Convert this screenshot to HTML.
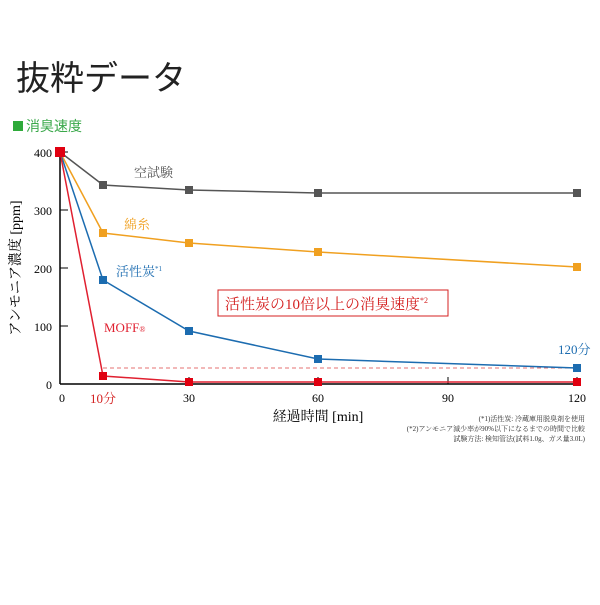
<!DOCTYPE html>
<html><head><meta charset="utf-8"><style>
body{margin:0;background:#fff;}
svg text{font-family:"Liberation Serif","Noto Serif CJK SC",serif;}
</style></head><body>
<svg width="600" height="600" viewBox="0 0 600 600" xmlns="http://www.w3.org/2000/svg">
<rect width="600" height="600" fill="#fff"/>
<text x="16" y="90" font-size="34" fill="#222" style="font-family:'Liberation Sans','Noto Sans CJK JP',sans-serif" font-weight="normal">抜粋データ</text>
<rect x="13" y="121" width="10" height="10" fill="#2eaa3a"/>
<text x="26" y="131" font-size="14" fill="#3aa84a" style="font-family:'Liberation Sans','Noto Sans CJK JP',sans-serif">消臭速度</text>
<line x1="60" y1="152" x2="60" y2="384" stroke="#000" stroke-width="1.5"/>
<line x1="60" y1="384" x2="578" y2="384" stroke="#000" stroke-width="1.5"/>
<g stroke="#000" stroke-width="1">
<line x1="60" y1="152" x2="68" y2="152"/><line x1="60" y1="210" x2="68" y2="210"/><line x1="60" y1="268" x2="68" y2="268"/><line x1="60" y1="326" x2="68" y2="326"/>
<line x1="189" y1="384" x2="189" y2="377"/><line x1="318" y1="384" x2="318" y2="377"/><line x1="448" y1="384" x2="448" y2="377"/><line x1="577" y1="384" x2="577" y2="377"/>
</g>
<g font-size="12" fill="#000" text-anchor="end">
<text x="52" y="157">400</text><text x="52" y="215">300</text><text x="52" y="273">200</text><text x="52" y="331">100</text><text x="52" y="389">0</text>
</g>
<g font-size="12" fill="#000" text-anchor="middle">
<text x="62" y="402">0</text><text x="189" y="402">30</text><text x="318" y="402">60</text><text x="448" y="402">90</text><text x="577" y="402">120</text>
</g>
<text x="103" y="403" font-size="13" fill="#d42020" text-anchor="middle">10分</text>
<text x="318" y="421" font-size="14" fill="#000" text-anchor="middle">経過時間 [min]</text>
<text transform="translate(20,268) rotate(-90)" font-size="14" fill="#000" text-anchor="middle">アンモニア濃度 [ppm]</text>
<line x1="103" y1="368" x2="577" y2="368" stroke="#d44" stroke-dasharray="4,3" stroke-width="0.8"/>
<g fill="none" stroke-width="1.5">
<polyline stroke="#555" points="60,152 103,185 189,190 318,193 577,193"/>
<polyline stroke="#f0a020" points="60,152 103,233 189,243 318,252 577,267"/>
<polyline stroke="#1c6cb0" points="60,152 103,280 189,331 318,359 577,368"/>
<polyline stroke="#e02030" points="60,152 103,376 189,382 318,382 577,382"/>
</g>
<g fill="#555"><rect x="99" y="181" width="8" height="8"/><rect x="185" y="186" width="8" height="8"/><rect x="314" y="189" width="8" height="8"/><rect x="573" y="189" width="8" height="8"/></g>
<g fill="#f0a020"><rect x="99" y="229" width="8" height="8"/><rect x="185" y="239" width="8" height="8"/><rect x="314" y="248" width="8" height="8"/><rect x="573" y="263" width="8" height="8"/></g>
<g fill="#1c6cb0"><rect x="99" y="276" width="8" height="8"/><rect x="185" y="327" width="8" height="8"/><rect x="314" y="355" width="8" height="8"/><rect x="573" y="364" width="8" height="8"/></g>
<g fill="#e00010"><rect x="99" y="372" width="8" height="8"/><rect x="185" y="378" width="8" height="8"/><rect x="314" y="378" width="8" height="8"/><rect x="573" y="378" width="8" height="8"/><rect x="55" y="147" width="10" height="10"/></g>
<text x="134" y="177" font-size="13" fill="#555">空試験</text>
<text x="124" y="229" font-size="13" fill="#f0a020">綿糸</text>
<text x="116" y="276" font-size="13" fill="#1c6cb0">活性炭<tspan font-size="7" dy="-5">*1</tspan></text>
<text x="104" y="332" font-size="13" fill="#e02030">MOFF<tspan font-size="8">®</tspan></text>
<text x="558" y="354" font-size="13" fill="#1c6cb0">120分</text>
<rect x="218" y="290" width="230" height="26" fill="#fff" stroke="#d42020" stroke-width="1"/>
<text x="225" y="309" font-size="15" fill="#d42020">活性炭の10倍以上の消臭速度<tspan font-size="8" dy="-6">*2</tspan></text>
<g font-size="7" fill="#333" text-anchor="end">
<text x="585" y="421">(*1)活性炭: 冷蔵庫用脱臭剤を使用</text>
<text x="585" y="431">(*2)アンモニア減少率が90%以下になるまでの時間で比較</text>
<text x="585" y="441">試験方法: 検知管法(試料1.0g、ガス量3.0L)</text>
</g>
</svg>
</body></html>
